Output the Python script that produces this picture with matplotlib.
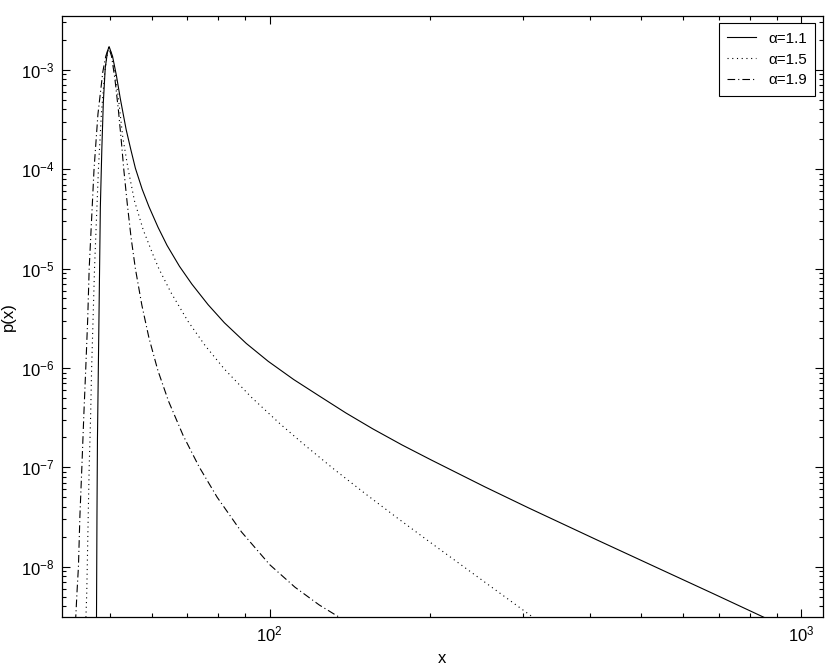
import matplotlib
matplotlib.use("Agg")
import matplotlib.pyplot as plt
from matplotlib.ticker import LogLocator, NullFormatter, FixedLocator

plt.rcParams['font.family'] = ['Liberation Sans', 'DejaVu Sans']
plt.rcParams['mathtext.default'] = 'regular'
plt.rcParams['lines.scale_dashes'] = False

# alpha = 1.1 (solid)
x_a11 = [47.21, 47.31, 47.41, 47.61, 47.81, 48.01, 48.32, 48.63, 49.04, 49.56, 49.87,
         50.61, 51.47, 52.35, 53.69, 54.77, 55.88, 57.55, 59.28, 61.65, 64.10, 67.64, 71.37,
         76.58, 82.17, 90.34, 99.37, 111.0, 124.0, 139.2, 156.4, 177.5, 201.4, 254.0, 307.0,
         412.4, 542.6, 684.1, 872.0]
p_a11 = [2.78e-9, 3.26e-8, 1.95e-7, 1.166e-6, 6.98e-6, 4.18e-5, 1.598e-4, 4.68e-4, 1.046e-3, 1.564e-3, 1.71e-3,
         1.368e-3, 8.74e-4, 5.11e-4, 2.50e-4, 1.585e-4, 1.022e-4, 6.28e-5, 4.18e-5, 2.60e-5, 1.71e-5, 1.054e-5, 6.98e-6,
         4.33e-6, 2.85e-6, 1.766e-6, 1.166e-6, 7.64e-7, 5.22e-7, 3.52e-7, 2.436e-7, 1.679e-7, 1.186e-7, 6.37e-8, 3.91e-8,
         1.868e-8, 9.48e-9, 5.35e-9, 2.92e-9]

# alpha = 1.5 (dotted)
x_a15 = [45.07, 45.26, 45.36, 45.55, 45.74, 46.03, 46.23, 46.52, 46.81, 47.21, 47.61, 48.22, 48.94, 49.46, 49.87,
         50.51, 51.15, 52.03, 52.91, 54.16, 55.67, 57.82, 60.31, 61.85, 65.19, 70.18, 75.55, 82.17, 92.31,
         104.75, 116.4, 132.1, 151.4, 173.8, 199.5, 229.1, 263.0, 314.9, 323.6]
p_a15 = [2.78e-9, 5.443e-9, 1.0e-8, 3.26e-8, 9.96e-8, 3.333e-7, 1.0e-6, 3.12e-6, 9.98e-6, 3.193e-5, 9.95e-5, 3.574e-4, 9.563e-4, 1.429e-3, 1.695e-3,
         1.392e-3, 9.563e-4, 4.68e-4, 2.090e-4, 9.95e-5, 4.776e-5, 2.442e-5, 1.38e-5, 1.0e-5, 5.74e-6, 2.95e-6, 1.687e-6, 9.75e-7, 5.09e-7,
         2.72e-7, 1.675e-7, 9.59e-8, 5.42e-8, 3.10e-8, 1.795e-8, 1.047e-8, 6.11e-9, 3.03e-9, 2.72e-9]

# alpha = 1.9 (dash-dot)
x_a19 = [43.11, 43.38, 43.66, 43.94, 44.31, 44.69, 45.07, 45.45, 45.74, 46.23, 46.71, 47.51, 48.53, 49.15, 49.77,
         50.40, 51.15, 51.92, 52.58, 53.14, 53.93, 54.85, 55.88, 57.46, 59.28, 61.59, 64.51, 68.71, 73.67,
         79.63, 88.50, 100.0, 111.6, 124.0, 132.7, 136.4, 139.6]
p_a19 = [2.78e-9, 5.443e-9, 1.0e-8, 3.26e-8, 9.96e-8, 3.333e-7, 1.0e-6, 3.12e-6, 9.98e-6, 3.193e-5, 9.95e-5, 3.574e-4, 9.563e-4, 1.368e-3, 1.680e-3,
         1.368e-3, 7.995e-4, 3.909e-4, 1.911e-4, 9.95e-5, 4.567e-5, 2.042e-5, 9.98e-6, 4.30e-6, 1.995e-6, 9.46e-7, 4.63e-7, 2.10e-7, 1.01e-7,
         5.01e-8, 2.24e-8, 1.05e-8, 6.22e-9, 4.12e-9, 3.30e-9, 3.02e-9, 2.80e-9]

labels = ['α=1.1', 'α=1.5', 'α=1.9']
x_ticks = [1e2, 1e3]
y_ticks = [1e-8, 1e-7, 1e-6, 1e-5, 1e-4, 1e-3]

fig = plt.figure(figsize=(8.3, 6.68), dpi=100)
ax = fig.add_axes([0.0743, 0.0759, 0.9173, 0.9006])

ax.plot(x_a11, p_a11, color='black', lw=0.8, linestyle='-', label=labels[0])
ax.plot(x_a15, p_a15, color='black', lw=0.8, linestyle=(0, (0.8, 2.6)), label=labels[1])
ax.plot(x_a19, p_a19, color='black', lw=0.8, linestyle=(0, (5.5, 2.2, 0.8, 2.2)), label=labels[2])

ax.set_xscale('log')
ax.set_yscale('log')
ax.set_xlim(40.6, 1100)
ax.set_ylim(3.1e-9, 3.5e-3)

ax.xaxis.set_major_locator(FixedLocator(x_ticks))
ax.yaxis.set_major_locator(FixedLocator(y_ticks))
ax.xaxis.set_minor_locator(LogLocator(base=10, subs=range(2, 10), numticks=20))
ax.yaxis.set_minor_locator(LogLocator(base=10, subs=range(2, 10), numticks=40))
ax.xaxis.set_minor_formatter(NullFormatter())
ax.yaxis.set_minor_formatter(NullFormatter())

ax.tick_params(which='both', direction='in', top=True, right=True, labelsize=12, width=0.8)
ax.tick_params(which='major', length=6, pad=5)
ax.tick_params(which='minor', length=3)
for s in ax.spines.values():
    s.set_linewidth(0.9)

ax.set_xlabel('x', fontsize=12, labelpad=5)
ax.set_ylabel('p(x)', fontsize=12, labelpad=4)

leg = ax.legend(loc='upper right', fontsize=11, frameon=True, fancybox=False,
                edgecolor='black', framealpha=1, borderaxespad=0.5,
                handlelength=1.9, labelspacing=0.45, borderpad=0.55, handletextpad=0.8)
leg.get_frame().set_linewidth(0.8)

fig.savefig('out.png', dpi=100)
